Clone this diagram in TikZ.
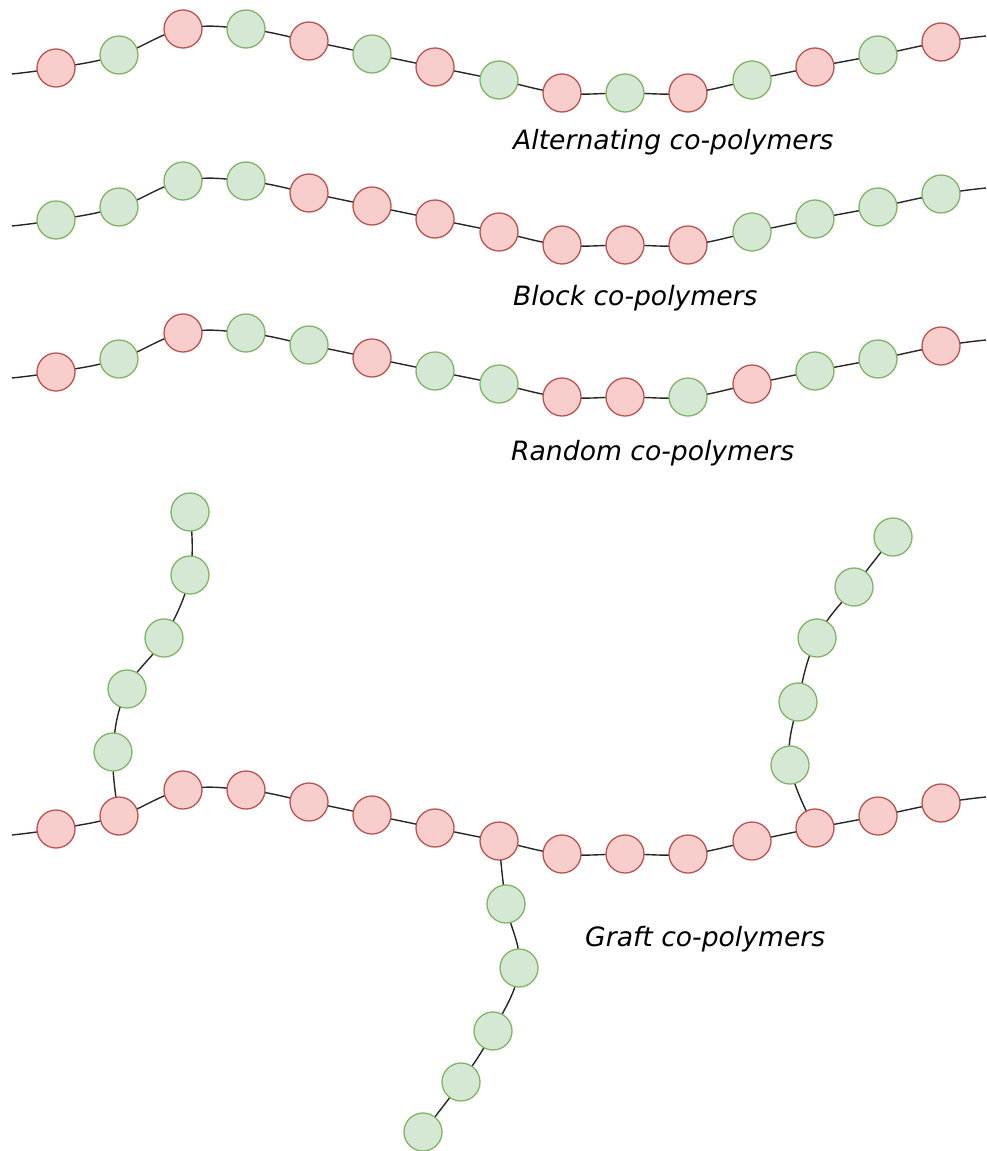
\documentclass[tikz,border=0pt]{standalone}
\usepackage{fontspec}
\setmainfont{DejaVu Sans}
\usetikzlibrary{backgrounds}
\definecolor{redfill}{HTML}{F8CECC}
\definecolor{redline}{HTML}{B85450}
\definecolor{greenfill}{HTML}{D5E8D4}
\definecolor{greenline}{HTML}{82B366}
\tikzset{
  mono/.style={circle, minimum size=38pt, inner sep=0pt, line width=1.3pt},
  mR/.style={mono, fill=redfill, draw=redline},
  mG/.style={mono, fill=greenfill, draw=greenline},
  bond/.style={draw=black!85, line width=1.4pt},
  caption/.style={anchor=base west, inner sep=0pt, font=\fontsize{26.6}{32}\selectfont\itshape}
}
\begin{document}
\begin{tikzpicture}[x=1pt, y=-1pt]
\useasboundingbox (0,0) rectangle (986,1151);

% three linear chains (offsets 0, 152, 304) and the graft backbone (offset 761)
\foreach \x/\y/\p/\q/\r [count=\i] in {
  56/68/mR/mG/mR, 119/55/mG/mG/mG, 183/29/mR/mG/mR, 246/29/mG/mG/mG,
  309/41/mR/mR/mG, 372/54/mG/mR/mR, 435/67/mR/mR/mG, 499/80/mG/mR/mG,
  562/93/mR/mR/mR, 625/93/mG/mR/mR, 688/93/mR/mR/mG, 752/80/mG/mG/mR,
  815/67/mR/mG/mG, 878/55/mG/mG/mG, 941/42/mR/mG/mR} {
  \node[\p] (a\i) at (\x,\y) {};
  \node[\q] (b\i) at (\x,\y+152) {};
  \node[\r] (r\i) at (\x,\y+304) {};
  \node[mR] (g\i) at (\x,\y+761) {};
}

% side chains of the graft co-polymer
\foreach \x/\y [count=\i] in {113/752, 127/689, 164/638, 190/575, 190/512}
  \node[mG] (gl\i) at (\x,\y) {};
\foreach \x/\y [count=\i] in {506/904, 519/968, 493/1031, 461/1082, 423/1132}
  \node[mG] (gm\i) at (\x,\y) {};
\foreach \x/\y [count=\i] in {790/765, 798/702, 817/638, 854/587, 893/537}
  \node[mG] (gr\i) at (\x,\y) {};

% free chain ends
\foreach \n/\dy in {a/0, b/152, r/304, g/761} {
  \coordinate (s\n) at (12,74+\dy);
  \coordinate (e\n) at (986,36+\dy);
}

\begin{scope}[on background layer]
  \foreach \n in {a,b,r,g}
    \draw[bond] plot[smooth, tension=0.7] coordinates {(s\n) (\n1) (\n2) (\n3) (\n4) (\n5) (\n6) (\n7) (\n8) (\n9) (\n10) (\n11) (\n12) (\n13) (\n14) (\n15) (e\n)};
  \draw[bond] plot[smooth, tension=0.7] coordinates {(g2) (gl1) (gl2) (gl3) (gl4) (gl5)};
  \draw[bond] plot[smooth, tension=0.7] coordinates {(g8) (gm1) (gm2) (gm3) (gm4) (gm5)};
  \draw[bond] plot[smooth, tension=0.7] coordinates {(g13) (gr1) (gr2) (gr3) (gr4) (gr5)};
\end{scope}

\node[caption] (capA) at (513,149) {Alternating co-polymers};
\node[caption] (capB) at (513,305) {Block co-polymers};
\node[caption] (capR) at (511,460) {Random co-polymers};
\node[caption] (capG) at (585,946) {Graft co-polymers};
\end{tikzpicture}
\end{document}
